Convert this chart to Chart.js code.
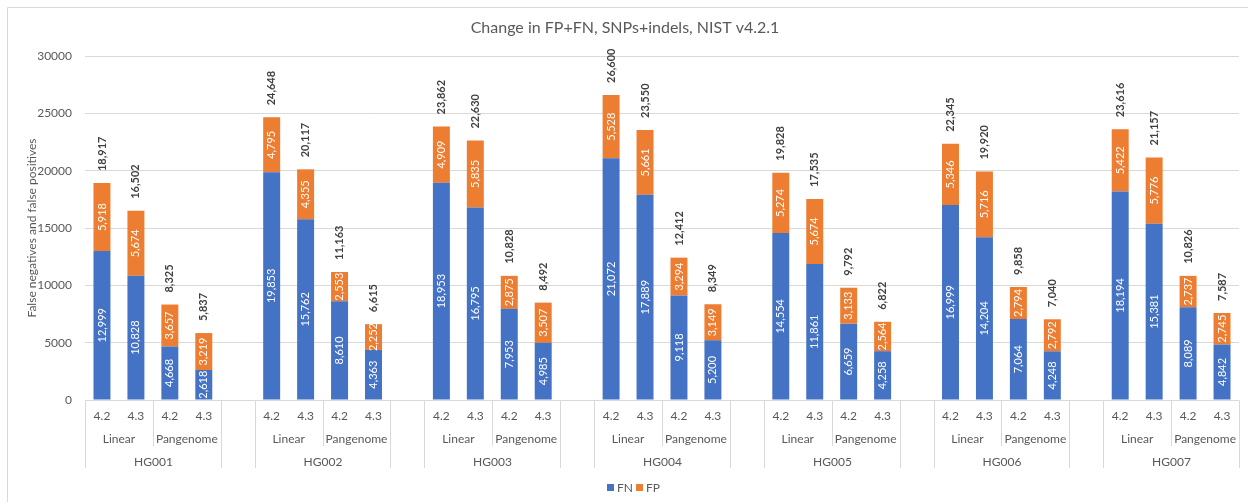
<!DOCTYPE html>
<html>
<head>
<meta charset="utf-8">
<script src="https://cdn.jsdelivr.net/npm/chart.js@4.4.1/dist/chart.umd.min.js"></script>
<style>
html,body{margin:0;padding:0;background:#fff;}
canvas{display:block;}
</style>
</head>
<body>
<canvas id="c" width="1248" height="502"></canvas>
<script>
const chartTitle = 'Change in FP+FN, SNPs+indels, NIST v4.2.1';
const yAxisTitle = 'False negatives and false positives';
const groups = ['HG001','HG002','HG003','HG004','HG005','HG006','HG007'];
const methods = ['Linear','Pangenome'];
const versions = ['4.2','4.3'];
const yTicks = [0,5000,10000,15000,20000,25000,30000];
// per group: Linear 4.2, Linear 4.3, Pangenome 4.2, Pangenome 4.3
const fnValues = [
  12999,10828,4668,2618,
  19853,15762,8610,4363,
  18953,16795,7953,4985,
  21072,17889,9118,5200,
  14554,11861,6659,4258,
  16999,14204,7064,4248,
  18194,15381,8089,4842
];
const fpValues = [
  5918,5674,3657,3219,
  4795,4355,2553,2252,
  4909,5835,2875,3507,
  5528,5661,3294,3149,
  5274,5674,3133,2564,
  5346,5716,2794,2792,
  5422,5776,2737,2745
];

const FONT = 'Lato, "Open Sans", sans-serif';
const TXT = '#595959';
const GRID = '#d9d9d9';
const BLUE = '#4472C4';
const ORANGE = '#ED7D31';

// build slots: 4 bars per group + one empty slot between groups
const labels = [], fnData = [], fpData = [], slotInfo = [];
groups.forEach((g, gi) => {
  for (let k = 0; k < 4; k++) {
    const idx = gi * 4 + k;
    labels.push(g + ' ' + methods[Math.floor(k/2)] + ' ' + versions[k%2]);
    fnData.push(fnValues[idx]);
    fpData.push(fpValues[idx]);
    slotInfo.push({g: gi, k: k});
  }
  if (gi < groups.length - 1) {
    labels.push('');
    fnData.push(null);
    fpData.push(null);
    slotInfo.push(null);
  }
});

const fmt = v => v.toLocaleString('en-US');

const decor = {
  id: 'decor',
  afterDatasetsDraw(chart) {
    const ctx = chart.ctx;
    const m0 = chart.getDatasetMeta(0), m1 = chart.getDatasetMeta(1);
    ctx.save();
    ctx.textBaseline = 'middle';
    [m0, m1].forEach((meta, di) => {
      const data = chart.data.datasets[di].data;
      meta.data.forEach((el, i) => {
        if (data[i] == null) return;
        ctx.save();
        ctx.translate(el.x, (el.y + el.base) / 2);
        ctx.rotate(-Math.PI / 2);
        ctx.fillStyle = '#ffffff';
        ctx.font = '11px ' + FONT;
        ctx.textAlign = 'center';
        ctx.fillText(fmt(data[i]), 0, 0);
        ctx.restore();
      });
    });
    m1.data.forEach((el, i) => {
      const a = fnData[i], b = fpData[i];
      if (a == null) return;
      ctx.save();
      ctx.translate(el.x, el.y - 12);
      ctx.rotate(-Math.PI / 2);
      ctx.fillStyle = '#404040';
      ctx.font = 'bold 11px ' + FONT;
      ctx.textAlign = 'left';
      ctx.fillText(fmt(a + b), 0, 0);
      ctx.restore();
    });
    ctx.restore();
  },
  afterDraw(chart) {
    const ctx = chart.ctx;
    const x = chart.scales.x;
    const area = chart.chartArea;
    const half = (x.getPixelForValue(1) - x.getPixelForValue(0)) / 2;
    ctx.save();
    // frame
    ctx.strokeStyle = GRID;
    ctx.lineWidth = 1;
    ctx.beginPath();
    ctx.moveTo(7.5, 502); ctx.lineTo(7.5, 7.5); ctx.lineTo(1248, 7.5);
    ctx.stroke();
    // title
    ctx.fillStyle = TXT;
    ctx.textAlign = 'center';
    ctx.textBaseline = 'middle';
    ctx.font = '16px ' + FONT;
    ctx.fillText(chartTitle, 625, 28);
    // y title
    ctx.save();
    ctx.translate(32, (area.top + area.bottom) / 2);
    ctx.rotate(-Math.PI / 2);
    ctx.font = '12px ' + FONT;
    ctx.fillText(yAxisTitle, 0, 0);
    ctx.restore();
    // multi-level category axis
    const y0 = Math.round(area.bottom) + 0.5;
    ctx.font = '12px ' + FONT;
    ctx.strokeStyle = GRID;
    groups.forEach((g, gi) => {
      const s0 = gi * 5;
      const left = Math.round(x.getPixelForValue(s0) - half) + 0.5;
      const right = Math.round(x.getPixelForValue(s0 + 3) + half) + 0.5;
      const mid = Math.round(x.getPixelForValue(s0 + 1) + half) + 0.5;
      ctx.beginPath();
      ctx.moveTo(left, y0); ctx.lineTo(left, 468);
      ctx.moveTo(right, y0); ctx.lineTo(right, 468);
      ctx.moveTo(mid, y0); ctx.lineTo(mid, 446);
      ctx.moveTo(left, y0); ctx.lineTo(right, y0);
      ctx.stroke();
      for (let k = 0; k < 4; k++) {
        ctx.fillText(versions[k % 2], x.getPixelForValue(s0 + k), 416);
      }
      methods.forEach((mth, mi) => {
        const cx = (x.getPixelForValue(s0 + mi * 2) + x.getPixelForValue(s0 + mi * 2 + 1)) / 2;
        ctx.fillText(mth, cx, 439);
      });
      ctx.fillText(g, (left + right) / 2, 462);
    });
    // legend
    const items = [{t: 'FN', c: BLUE}, {t: 'FP', c: ORANGE}];
    ctx.textAlign = 'left';
    let lx = 607;
    items.forEach(it => {
      ctx.fillStyle = it.c;
      ctx.fillRect(lx, 484, 7, 7);
      ctx.fillStyle = TXT;
      ctx.fillText(it.t, lx + 10, 488);
      lx += 29;
    });
    ctx.restore();
  }
};

new Chart(document.getElementById('c'), {
  type: 'bar',
  data: {
    labels: labels,
    datasets: [
      {label: 'FN', data: fnData, backgroundColor: BLUE, categoryPercentage: 1, barPercentage: 0.5},
      {label: 'FP', data: fpData, backgroundColor: ORANGE, categoryPercentage: 1, barPercentage: 0.5}
    ]
  },
  options: {
    responsive: false,
    animation: false,
    layout: {padding: {left: 0, right: 9, top: 56, bottom: 102}},
    plugins: {legend: {display: false}, title: {display: false}, tooltip: {enabled: false}},
    scales: {
      x: {stacked: true, display: false},
      y: {
        stacked: true,
        min: 0, max: 30000,
        afterBuildTicks: s => { s.ticks = yTicks.map(v => ({value: v})); },
        afterFit: s => { s.width = 85; },
        border: {display: false},
        grid: {color: GRID, drawTicks: false, lineWidth: 1},
        ticks: {padding: 13, color: TXT, font: {family: FONT, size: 12}, callback: v => String(v)}
      }
    }
  },
  plugins: [decor]
});
</script>
</body>
</html>
